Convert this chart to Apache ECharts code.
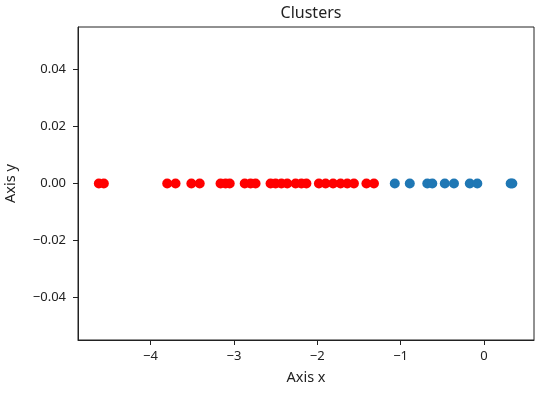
<!DOCTYPE html>
<html>
<head>
<meta charset="utf-8">
<script src="https://cdn.jsdelivr.net/npm/echarts@6/dist/echarts.min.js"></script>
<style>
  html, body { margin: 0; padding: 0; background: #fff; }
  #chart { width: 550px; height: 397px; }
</style>
</head>
<body>
<div id="chart"></div>
<script>
// 红色簇 (x 坐标)
const redX = [-4.62, -4.56, -3.80, -3.70, -3.51, -3.41, -3.16, -3.10, -3.05,
  -2.87, -2.80, -2.74, -2.56, -2.50, -2.43, -2.36, -2.26, -2.19, -2.13,
  -1.98, -1.90, -1.81, -1.72, -1.64, -1.56, -1.41, -1.32];
const redY = [0, 0, 0, 0, 0, 0, 0, 0, 0, 0, 0, 0, 0, 0, 0, 0, 0, 0, 0, 0, 0, 0, 0, 0, 0, 0, 0];
// 蓝色簇
const blueX = [-1.07, -0.89, -0.68, -0.62, -0.47, -0.36, -0.17, -0.08, 0.32, 0.34];
const blueY = [0, 0, 0, 0, 0, 0, 0, 0, 0, 0];
// 刻度
const xTicks = [-4, -3, -2, -1, 0];
const yTicks = [-0.04, -0.02, 0, 0.02, 0.04];

window.onload = function () {
    let chart = echarts.init(document.getElementById('chart'));
    const font = 'Noto Sans';
    const fmtMinus = s => s.replace('-', '\u2212');

    let option = {
        animation: false,
        title: {
            text: 'Clusters',
            left: 306,
            textAlign: 'center',
            top: 0,
            textStyle: { fontFamily: font, fontSize: 16, fontWeight: 'normal', color: '#222' }
        },
        grid: {
            left: 78, right: 16, top: 27, bottom: 57,
            outerBoundsMode: 'none',
            containLabel: false,
            show: true, borderColor: '#222', borderWidth: 1, backgroundColor: '#fff'
        },
        xAxis: {
            type: 'value',
            min: -4.87, max: 0.6,
            name: 'Axis x',
            nameLocation: 'middle',
            nameGap: 30,
            nameTextStyle: { fontFamily: font, fontSize: 14.5, color: '#222' },
            splitLine: { show: false },
            axisLine: { show: true, onZero: false, lineStyle: { color: '#222', width: 1 } },
            axisTick: { show: true, length: 5, lineStyle: { color: '#222' }, customValues: xTicks },
            axisLabel: {
                customValues: xTicks,
                fontFamily: font, fontSize: 13, color: '#222', margin: 10,
                formatter: v => fmtMinus(String(v))
            }
        },
        yAxis: {
            type: 'value',
            min: -0.055, max: 0.055,
            name: 'Axis y',
            nameLocation: 'middle',
            nameGap: 60,
            nameRotate: 90,
            nameTextStyle: { fontFamily: font, fontSize: 14.5, color: '#222' },
            splitLine: { show: false },
            axisLine: { show: true, onZero: false, lineStyle: { color: '#222', width: 1 } },
            axisTick: { show: true, length: 5, lineStyle: { color: '#222' }, customValues: yTicks },
            axisLabel: {
                customValues: yTicks,
                fontFamily: font, fontSize: 13, color: '#222', margin: 12,
                formatter: v => fmtMinus(v.toFixed(2))
            }
        },
        series: [
            {
                name: 'cluster 0',
                type: 'scatter',
                symbolSize: 10,
                itemStyle: { color: '#ff0000', opacity: 1 },
                data: redX.map((x, i) => [x, redY[i]])
            },
            {
                name: 'cluster 1',
                type: 'scatter',
                symbolSize: 10,
                itemStyle: { color: '#1f77b4', opacity: 1 },
                data: blueX.map((x, i) => [x, blueY[i]])
            }
        ]
    };
    chart.setOption(option);
};
</script>
</body>
</html>
